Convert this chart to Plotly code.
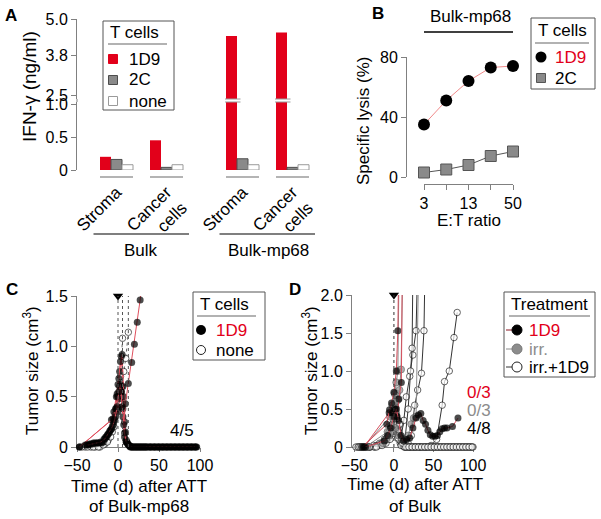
import plotly.graph_objects as go

W, H = 601, 519
FONT = "Liberation Sans, Arial, Helvetica, sans-serif"
RED = "#e2001a"
GRAY = "#8c8c8c"
AXC = "#808080"

# ---------------- data: panel A (IFN-gamma, ng/ml)
a_targets = ["Stroma", "Cancer<br>cells", "Stroma", "Cancer<br>cells"]
a_lines = ["Bulk", "Bulk-mp68"]
ifn_1d9 = [0.20, 0.45, 4.44, 4.56]
ifn_2c = [0.16, 0.04, 0.17, 0.04]
ifn_none = [0.08, 0.08, 0.08, 0.08]

# ---------------- data: panel B (specific lysis, %)
et_ratio = ["3", "6", "13", "25", "50"]
et_labels = ["3", "", "13", "", "50"]
lysis_1d9 = [35, 51, 64, 73, 74]
lysis_2c = [3, 5, 8, 14, 17]

# ---------------- data: panel C (tumor size, cm3, days after ATT of Bulk-mp68)
ATT_DAY = 0
c_1d9_days = [
    [-47, -8, -5, -2, 0, 2, 4, 6, 8, 10, 12, 15, 19, 23, 27, 31, 35, 40, 45, 50, 55, 60, 65, 70, 75, 80, 85, 90, 95],
    [-47, -6, -3, -1, 1, 3, 5, 7, 9, 11, 14, 17, 21, 25, 29, 33, 38, 43, 48, 53, 58, 63, 68, 73, 78, 83, 88, 93],
    [-40, -35, -30, -25, -20, -17, -14, -11, -8, -5, -2, 0, 2, 4, 6, 8, 10, 13, 16, 20, 24, 28, 32, 36, 41, 46, 51, 56, 61, 66, 71, 76, 81, 86, 91, 96],
    [-38, -33, -28, -23, -18, -15, -12, -9, -6, -3, 0, 2, 4, 6, 8, 10, 12, 15, 18, 22, 26, 30, 34, 39, 44, 49, 54, 59, 64, 69, 74, 79, 84, 89, 94],
    [-36, -31, -26, -21, -16, -13, -10, -7, -4, -1, 1, 3, 5, 7, 9, 12.6, 16.7, 20, 23.5, 27, 30],
]
c_1d9_vals = [
    [0, 0.27, 0.35, 0.5, 0.62, 0.75, 0.9, 0.6, 0.25, 0.07, 0.03, 0, 0, 0, 0, 0, 0, 0, 0, 0, 0, 0, 0, 0, 0, 0, 0, 0, 0],
    [0, 0.28, 0.38, 0.53, 0.68, 0.85, 0.92, 0.5, 0.15, 0.05, 0.01, 0, 0, 0, 0, 0, 0, 0, 0, 0, 0, 0, 0, 0, 0, 0, 0, 0],
    [0.02, 0.03, 0.04, 0.04, 0.04, 0.08, 0.1, 0.14, 0.18, 0.25, 0.38, 0.5, 0.6, 0.55, 0.3, 0.1, 0.05, 0.02, 0, 0, 0, 0, 0, 0, 0, 0, 0, 0, 0, 0, 0, 0, 0, 0, 0, 0],
    [0.02, 0.03, 0.04, 0.04, 0.05, 0.1, 0.13, 0.17, 0.22, 0.3, 0.35, 0.48, 0.55, 0.38, 0.14, 0.05, 0.03, 0.01, 0, 0, 0, 0, 0, 0, 0, 0, 0, 0, 0, 0, 0, 0, 0, 0, 0],
    [0.02, 0.03, 0.04, 0.05, 0.08, 0.12, 0.16, 0.2, 0.27, 0.4, 0.55, 0.62, 0.4, 0.22, 0.43, 0.63, 0.84, 1.02, 1.24, 1.46, 1.72],
]
c_none_days = [
    [-40, -33, -28, -22, -16, -12, -7, -3, 0, 3, 5.5],
    [-44, -37, -30, -24, -18, -13, -9, -5, -1, 2, 4.5, 7, 9.4, 12.6],
]
c_none_vals = [
    [0, 0, 0, 0, 0.03, 0.07, 0.15, 0.33, 0.5, 0.7, 1.08],
    [0, 0, 0, 0, 0.02, 0.05, 0.1, 0.2, 0.4, 0.45, 0.6, 0.75, 0.88, 1.14],
]

# ---------------- data: panel D (tumor size, cm3, days after ATT of Bulk)
d_1d9_days = [
    [-38, -6, -3, 0, 3, 5, 6.5],
    [-40, -9, -5.5, -2, 1, 4, 6.3, 9.4, 11],
    [-36, -12, -8, -4, 0, 3, 6, 9, 12, 16, 20, 24, 28, 31, 34, 37, 40, 43, 46, 49, 52, 55, 58, 61, 64, 67, 74, 81],
]
d_1d9_vals = [
    [0, 0.45, 0.58, 0.72, 1.0, 1.53, 2.8],
    [0, 0.3, 0.49, 0.45, 0.5, 0.4, 0.63, 0.85, 2.8],
    [0, 0.08, 0.15, 0.25, 0.4, 0.5, 0.35, 0.15, 0.08, 0.1, 0.12, 0.25, 0.38, 0.42, 0.44, 0.35, 0.3, 0.22, 0.16, 0.14, 0.14, 0.15, 0.2, 0.24, 0.25, 0.25, 0.27, 0.38],
]
d_irr_days = [
    [-38, -5, -2, 1, 3, 5, 7],
    [-36, -8, -4, -1, 2, 5, 7, 9, 12],
    [-34, -14, -10, -6, -2, 2, 6, 10, 14, 18, 22, 25, 28, 32],
]
d_irr_vals = [
    [0, 0.4, 0.55, 0.7, 0.85, 1.0, 2.8],
    [0, 0.2, 0.28, 0.4, 0.52, 0.62, 0.75, 1.02, 2.8],
    [0, 0.05, 0.1, 0.15, 0.2, 0.25, 0.15, 0.1, 0.1, 0.15, 0.3, 0.38, 0.4, 2.8],
]
d_combo_days = [
    [-40, -20, -14, -10, -6, -2, 2, 6, 9, 12.5, 15.7, 20, 24, 28, 31],
    [-42, -30, -20, -12, -8, -4, 0, 4, 8, 11, 14, 18, 21, 23, 24.5],
    [-44, -32, -22, -15, -10, -5, 0, 4, 8, 12, 15, 18, 22, 26.3, 30, 34.8, 38, 40],
    [-46, -36, -26, -18, -12, -6, -2, 2, 6, 10, 14, 20, 26, 33, 40, 47, 54, 61, 64, 70, 76, 80],
    [-48, -42, -38, -30, -20, -14, -9, -4, 0, 4, 8, 12, 16, 20, 24, 28, 32, 36, 40, 44, 48, 52, 56, 60, 64, 68, 72, 76, 80, 84, 88, 92, 96, 100],
    [-45, -40, -35, -25, -16, -11, -6, -2, 2, 6, 10, 14, 18, 22, 26, 30, 34, 38, 42, 46, 50, 54, 58, 62, 66, 70, 74, 78, 82, 86, 90, 94, 98],
    [-43, -39, -33, -24, -17, -12, -7, -3, 1, 5, 9, 13, 17, 21, 25, 29, 33, 37, 41, 45, 49, 53, 57, 61, 65, 69, 73, 77, 81, 85, 89, 93, 97],
    [-41, -37, -31, -22, -15, -10, -5, -1, 3, 7, 11, 15, 19, 23, 27, 31, 35, 39, 43, 47, 51, 55, 59, 63, 67, 71, 75, 79, 83, 87, 91, 95, 99],
]
d_combo_vals = [
    [0, 0.02, 0.05, 0.1, 0.15, 0.25, 0.3, 0.15, 0.12, 0.35, 0.66, 0.93, 1.21, 1.53, 2.8],
    [0, 0, 0.02, 0.06, 0.1, 0.2, 0.35, 0.2, 0.08, 0.06, 0.1, 0.5, 1.0, 1.3, 2.8],
    [0, 0, 0.02, 0.05, 0.1, 0.18, 0.28, 0.15, 0.05, 0.02, 0.05, 0.05, 0.15, 0.55, 0.75, 0.97, 1.53, 2.8],
    [0, 0, 0.02, 0.05, 0.1, 0.2, 0.3, 0.25, 0.1, 0.03, 0, 0, 0, 0, 0, 0.02, 0.1, 0.55, 0.86, 1.0, 1.44, 1.77],
    [0, 0, 0, 0, 0.02, 0.06, 0.12, 0.25, 0.45, 0.7, 0.3, 0.05, 0, 0, 0, 0, 0, 0, 0, 0, 0, 0, 0, 0, 0, 0, 0, 0, 0, 0, 0, 0, 0, 0],
    [0, 0, 0, 0, 0.04, 0.08, 0.15, 0.28, 0.42, 0.2, 0.04, 0, 0, 0, 0, 0, 0, 0, 0, 0, 0, 0, 0, 0, 0, 0, 0, 0, 0, 0, 0, 0, 0],
    [0, 0, 0, 0, 0.03, 0.07, 0.12, 0.2, 0.3, 0.12, 0.02, 0, 0, 0, 0, 0, 0, 0, 0, 0, 0, 0, 0, 0, 0, 0, 0, 0, 0, 0, 0, 0, 0],
    [0, 0, 0, 0, 0.02, 0.05, 0.1, 0.18, 0.6, 0.3, 0.05, 0, 0, 0, 0, 0, 0, 0, 0, 0, 0, 0, 0, 0, 0, 0, 0, 0, 0, 0, 0, 0, 0],
]
c_fraction = "4/5"
d_fractions = [("0/3", RED), ("0/3", GRAY), ("4/8", "black")]

TICK = 16
TXT = 17


def xd(a, b):
    return [a / W, b / W]


def yd(top, bot):
    return [1 - bot / H, 1 - top / H]


def px(x):
    return x / W


def py(y):
    return 1 - y / H


def axis(**kw):
    base = dict(showline=True, linecolor=AXC, linewidth=1, ticks="outside", ticklen=5,
                tickcolor=AXC, tickfont=dict(size=TICK, color="black"), showgrid=False,
                zeroline=False, layer="below traces", automargin=False)
    base.update(kw)
    return base


fig = go.Figure()

# ---------------- panel A bars
group_x = [0, 1, 2.52, 3.52]
bw = 0.22
bar_sets = [
    ("1D9", ifn_1d9, dict(color=RED, line=dict(color=RED, width=0)), -0.33),
    ("2C", ifn_2c, dict(color="#8a8a8a", line=dict(color="#4d4d4d", width=1)), -0.11),
    ("none", ifn_none, dict(color="white", line=dict(color="#9a9a9a", width=1)), 0.11),
]
for name, vals, mk, off in bar_sets:
    for ya in ("y", "y2"):
        fig.add_trace(go.Bar(x=group_x, y=vals, width=bw, offset=off, marker=mk, name=name,
                             xaxis="x", yaxis=ya, showlegend=False))

# ---------------- panel B
fig.add_trace(go.Scatter(x=et_ratio, y=lysis_1d9, mode="lines+markers", xaxis="x2", yaxis="y3",
                         line=dict(color="#f08a8a", width=1), cliponaxis=False,
                         marker=dict(color="black", size=12), showlegend=False))
fig.add_trace(go.Scatter(x=et_ratio, y=lysis_2c, mode="lines+markers", xaxis="x2", yaxis="y3",
                         line=dict(color="#555555", width=1), cliponaxis=False,
                         marker=dict(color="#8a8a8a", size=11, symbol="square",
                                     line=dict(color="#555555", width=1)), showlegend=False))

M_BLACK = dict(color="black", size=7, line=dict(width=0))
M_OPEN = dict(color="white", size=6.5, line=dict(color="#222222", width=1))
M_GRAY = dict(color="#8c8c8c", size=7, line=dict(color="#555555", width=1))


def add_mouse(days, vals, xa, ya, ymax, lcolor, dash, mk):
    m = dict(mk)
    m["size"] = [mk["size"] if v <= ymax else 0 for v in vals]
    fig.add_trace(go.Scatter(x=days, y=vals, mode="lines+markers", xaxis=xa, yaxis=ya,
                             line=dict(color=lcolor, width=1, dash=dash), marker=m,
                             cliponaxis=False, showlegend=False))


# ---------------- panel C
for d, v in zip(c_none_days, c_none_vals):
    add_mouse(d, v, "x3", "y4", 1.5, "#666666", "dot", M_OPEN)
for d, v in zip(c_1d9_days, c_1d9_vals):
    add_mouse(d, v, "x3", "y4", 1.5, "#e0505e", "solid", M_BLACK)
fig.add_trace(go.Scatter(x=[ATT_DAY], y=[1.5], mode="markers", xaxis="x3", yaxis="y4", cliponaxis=False,
                         marker=dict(symbol="triangle-down", size=9, color="black"), showlegend=False))

# ---------------- panel D
for d, v in zip(d_combo_days, d_combo_vals):
    add_mouse(d, v, "x4", "y5", 2.0, "#333333", "solid", M_OPEN)
for d, v in zip(d_irr_days, d_irr_vals):
    add_mouse(d, v, "x4", "y5", 2.0, "#8c8c8c", "solid", M_GRAY)
for d, v in zip(d_1d9_days, d_1d9_vals):
    add_mouse(d, v, "x4", "y5", 2.0, "#d8505e", "solid", M_BLACK)
fig.add_trace(go.Scatter(x=[ATT_DAY], y=[2.0], mode="markers", xaxis="x4", yaxis="y5", cliponaxis=False,
                         marker=dict(symbol="triangle-down", size=9, color="black"), showlegend=False))

# ---------------- shapes
shapes = []
ann = []


def text(x, y, s, size=TXT, color="black", angle=0, bold=False, xanchor="center"):
    if bold:
        s = f"<b>{s}</b>"
    ann.append(dict(x=px(x), y=py(y), xref="paper", yref="paper", text=s, showarrow=False,
                    font=dict(size=size, color=color, family=FONT), textangle=angle,
                    xanchor=xanchor, yanchor="middle"))


def pline(x0, y0, x1, y1, color, width=1, dash="solid"):
    shapes.append(dict(type="line", xref="paper", yref="paper", x0=px(x0), x1=px(x1),
                       y0=py(y0), y1=py(y1), line=dict(color=color, width=width, dash=dash)))


def prect(x0, y0, x1, y1, fill, line, lw=1):
    shapes.append(dict(type="rect", xref="paper", yref="paper", x0=px(x0), x1=px(x1),
                       y0=py(y1), y1=py(y0), fillcolor=fill, line=dict(color=line, width=lw)))


def pcircle(cx, cy, r, fill, line, lw=1):
    shapes.append(dict(type="circle", xref="paper", yref="paper", x0=px(cx - r), x1=px(cx + r),
                       y0=py(cy + r), y1=py(cy - r), fillcolor=fill, line=dict(color=line, width=lw)))


def legend_box(box, title, ul, items):
    # box = (x0, y0, x1, y1) in px; items = (kind, style, label, color, sx, tx, cy)
    prect(*box, fill="white", line="#555555")
    text(box[0] + 5, ul[2] - 12, title, xanchor="left")
    pline(ul[0], ul[2], ul[1], ul[2], "#999999", 1.5)
    for kind, sty, label, col, sx, tx, cy in items:
        if kind == "square":
            prect(sx - 4.5, cy - 4.5, sx + 4.5, cy + 4.5, sty[0], sty[1])
        elif kind == "circle":
            pcircle(sx, cy, sty[2], sty[0], sty[1], 0 if sty[0] == sty[1] else 1)
        elif kind == "linecircle":
            pline(sx - 11, cy, sx, cy, sty[1])
            pcircle(sx, cy, sty[2], sty[0], sty[3], 1)
        text(tx, cy, label, color=col, xanchor="left")


lower_top, upper_bot = 102, 99
for gx in group_x:
    shapes.append(dict(type="line", xref="x", yref="paper", x0=gx - 0.33, x1=gx + 0.33,
                       y0=py(177), y1=py(177), line=dict(color="#b4b4b4", width=2)))
for i, v in enumerate(ifn_1d9):
    if v > 1.03:
        for yy in (upper_bot, lower_top):
            shapes.append(dict(type="line", xref="x", yref="paper", x0=group_x[i] - 0.35,
                               x1=group_x[i] - 0.04, y0=py(yy), y1=py(yy),
                               line=dict(color="#9a9a9a", width=1)))
pline(77, upper_bot, 77, lower_top, AXC)
for (g0, g1) in ((0, 1), (2, 3)):
    shapes.append(dict(type="line", xref="x", yref="paper", x0=group_x[g0] - 0.46, x1=group_x[g1] + 0.45,
                       y0=py(234), y1=py(234), line=dict(color="#555555", width=1.5)))
pline(424, 32, 513, 32, "black", 1.5)
# C vertical guides: ATT and last measurement of untreated mice
for xv in [ATT_DAY] + [d[-1] for d in c_none_days]:
    shapes.append(dict(type="line", xref="x3", yref="y4", x0=xv, x1=xv, y0=0, y1=1.5,
                       line=dict(color="#555555", width=1, dash="dot")))
shapes.append(dict(type="line", xref="x4", yref="y5", x0=ATT_DAY, x1=ATT_DAY, y0=0, y1=2.0,
                   line=dict(color="#333333", width=1, dash="dot")))

# legends drawn by hand (compact, like the original)
legend_box((103, 21, 174, 110), "T cells", (108, 167, 44), [
    ("square", (RED, RED), "1D9", "black", 113, 127, 59),
    ("square", ("#8a8a8a", "#4d4d4d"), "2C", "black", 113, 127, 80),
    ("square", ("white", "#9a9a9a"), "none", "black", 113, 127, 101),
])
legend_box((531, 18, 595, 89), "T cells", (535, 589, 43), [
    ("circle", ("black", "black", 5.5), "1D9", RED, 541, 553, 57),
    ("square", ("#8a8a8a", "#555555"), "2C", "black", 541, 553, 78),
])
legend_box((193, 292, 265, 360), "T cells", (197, 256, 316), [
    ("circle", ("black", "black", 5), "1D9", RED, 201, 214, 330),
    ("circle", ("white", "#222222", 4.5), "none", "black", 201, 214, 350),
])
legend_box((504, 292, 595, 377), "Treatment", (509, 590, 316), [
    ("linecircle", ("black", "#8a1520", 5, "black"), "1D9", RED, 517, 527, 330),
    ("linecircle", ("#8c8c8c", GRAY, 5, "#777777"), "irr.", GRAY, 517, 527, 349),
    ("linecircle", ("white", "#333333", 5, "#222222"), "irr.+1D9", "black", 517, 527, 367),
])

text(11, 15, "A", 17, bold=True)
text(378, 13, "B", 17, bold=True)
text(12, 289, "C", 17, bold=True)
text(295, 289, "D", 17, bold=True)
text(30, 87, "IFN-γ (ng/ml)", 19, angle=-90)
text(141, 251, a_lines[0])
text(268, 251, a_lines[1])
text(470, 17, "Bulk-mp68")
text(363, 121, "Specific lysis (%)", angle=-90)
text(469, 220, "E:T ratio")
text(31, 371, "Tumor size (cm<sup>3</sup>)", angle=-90)
text(310, 371, "Tumor size (cm<sup>3</sup>)", angle=-90)
text(139, 486, "Time (d) after ATT")
text(139, 506, "of Bulk-mp68")
text(415, 484, "Time (d) after ATT")
text(415, 506, "of Bulk")
text(182, 430, c_fraction)
for i, (s, col) in enumerate(d_fractions):
    text(479, 392 + 18 * i, s, color=col)

fig.update_layout(
    width=W, height=H, margin=dict(l=0, r=0, t=0, b=0, autoexpand=False),
    paper_bgcolor="white", plot_bgcolor="white", showlegend=False,
    font=dict(family=FONT, size=TXT, color="black"),
    barmode="overlay",
    xaxis=dict(domain=xd(77, 320), range=[-0.79, 4.07], anchor="y", showline=False, ticks="",
               tickvals=group_x, ticktext=a_targets, tickangle=-45, ticklabelstandoff=8,
               tickfont=dict(size=TICK + 1), showgrid=False, zeroline=False, automargin=False),
    yaxis=axis(domain=yd(lower_top, 170), range=[0, 1 + (104 - lower_top) / 66], anchor="x",
               tickvals=[0, 0.5, 1.0], ticktext=["0", "0.5", "1.0"]),
    yaxis2=axis(domain=yd(19, upper_bot), range=[2.5 - (upper_bot - 95) / 30.4, 5.0], anchor="x",
                tickvals=[2.5, 3.8, 5.0], ticktext=["2.5", "3.8", "5.0"]),
    xaxis2=axis(domain=xd(424, 513), range=[0, 4], anchor="free", position=py(184), type="category",
                tickvals=et_ratio, ticktext=et_labels),
    yaxis3=axis(domain=yd(57, 177), range=[0, 80], anchor="free", position=px(406),
                tickvals=[0, 40, 80]),
    xaxis3=axis(domain=xd(77, 200), range=[-50, 100], anchor="y4", tickvals=[-50, 0, 50, 100], ticklen=4),
    yaxis4=axis(domain=yd(296, 447), range=[0, 1.5], anchor="x3",
                tickvals=[0, 0.5, 1.0, 1.5], ticktext=["0", "0.5", "1.0", "1.5"]),
    xaxis4=axis(domain=xd(352, 473), range=[-53, 100], anchor="y5", tickvals=[-50, 0, 50, 100], ticklen=4),
    yaxis5=axis(domain=yd(295, 447), range=[0, 2.0], anchor="x4",
                tickvals=[0, 0.5, 1.0, 1.5, 2.0], ticktext=["0", "0.5", "1.0", "1.5", "2.0"]),
    shapes=shapes,
    annotations=ann,
)

# the page's default body margin would shift the figure; remove it
fig.write_html("out.html", config={"displayModeBar": False},
               post_script="document.body.style.margin='0px';")
